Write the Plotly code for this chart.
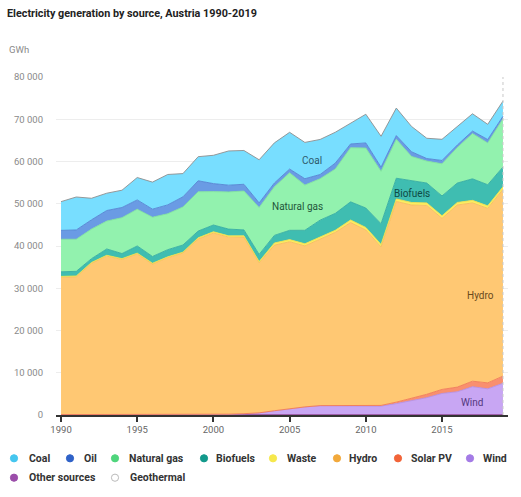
import plotly.graph_objects as go

years = list(range(1990, 2020))

# GWh
coal = [6800, 7800, 5100, 4100, 4100, 5300, 6400, 7200, 5500, 5700,
        6700, 8100, 8000, 10200, 9500, 8700, 8600, 8300, 7300, 4900,
        6800, 7300, 6500, 6000, 4800, 5000, 4400, 4100, 3600, 3600]
oil = [2100, 2200, 2200, 2500, 2400, 2200, 1900, 2100, 2400, 2600,
       1900, 1600, 1600, 1100, 900, 900, 1500, 1000, 1400, 900,
       1200, 1000, 900, 1100, 600, 800, 600, 600, 800, 600]
natural_gas = [7700, 7600, 7000, 6600, 8500, 8700, 9300, 8500, 9000, 9300,
               7900, 8800, 9200, 11100, 11500, 13600, 10700, 9800, 10500, 12800,
               14200, 12400, 9200, 5700, 5200, 7600, 8400, 10700, 9900, 11400]
biofuels = [1100, 1100, 900, 1500, 1200, 1700, 1600, 1700, 1700, 1600,
            1600, 1600, 1400, 1700, 1800, 2200, 3200, 4000, 4000, 4300,
            4600, 4900, 4900, 5200, 4700, 4700, 4600, 5100, 5000, 4700]
waste = [200, 200, 200, 200, 200, 200, 200, 200, 200, 300,
         300, 300, 300, 300, 500, 500, 500, 500, 500, 600,
         600, 600, 600, 600, 600, 600, 600, 600, 600, 600]
hydro = [32500, 32600, 35800, 37500, 36700, 38000, 35600, 37100, 38200, 41500,
         42900, 41900, 41800, 35500, 39200, 39500, 38100, 39400, 41000, 43400,
         41500, 37500, 47500, 45700, 44700, 40500, 43100, 42200, 41300, 44200]
solar_pv = [0, 0, 0, 0, 0, 0, 0, 0, 0, 0,
            0, 0, 10, 10, 10, 10, 20, 20, 30, 50,
            90, 170, 340, 600, 800, 950, 1100, 1300, 1400, 1700]
wind = [0, 0, 0, 0, 10, 10, 20, 30, 40, 40,
        70, 100, 200, 400, 900, 1400, 1800, 2100, 2100, 2000,
        2100, 2000, 2600, 3300, 4000, 5000, 5400, 6600, 6100, 7400]
other_sources = [100, 100, 100, 100, 100, 100, 100, 100, 100, 100,
                 100, 100, 100, 100, 100, 100, 100, 100, 100, 100,
                 100, 100, 100, 100, 100, 100, 100, 100, 100, 100]
geothermal = [0, 0, 0, 0, 0, 0, 0, 0, 0, 0,
              0, 0, 1, 1, 1, 1, 1, 1, 1, 1,
              1, 1, 1, 1, 1, 1, 1, 1, 1, 1]

y_ticks = [0, 10000, 20000, 30000, 40000, 50000, 60000, 70000, 80000]
x_ticks = [1990, 1995, 2000, 2005, 2010, 2015]

# name, values, fill colour, line colour, legend dot colour
series = [
    ("Coal", coal, "#78DEFF", "#8E8E8E", "#45C6EF"),
    ("Oil", oil, "#6A9BE4", "#5383D2", "#2F62C8"),
    ("Natural gas", natural_gas, "#92F2AE", "#7FE39C", "#4FD57C"),
    ("Biofuels", biofuels, "#3FBDB1", "#34ADA1", "#12998B"),
    ("Waste", waste, "#FBEE62", "#F2E04A", "#F6E84C"),
    ("Hydro", hydro, "#FFC873", "#F6BA5E", "#F2A93B"),
    ("Solar PV", solar_pv, "#F98F6F", "#F07A58", "#F26438"),
    ("Wind", wind, "#C8A6F3", "#B28FE6", "#A47BE6"),
    ("Other sources", other_sources, "#A65CB8", "#96509F", "#9B4DAA"),
    ("Geothermal", geothermal, "#E0E0E0", "#CCCCCC", "#FFFFFF"),
]

W, H = 521, 497
ML, MR, MT, MB = 56, 13, 77, 82
PW, PH = W - ML - MR, H - MT - MB


def pxp(x):
    return (x - ML) / PW


def pyp(y):
    return (H - MB - y) / PH


fig = go.Figure()
for name, vals, fillc, linec, _ in reversed(series):
    fig.add_trace(go.Scatter(
        x=years, y=vals, name=name, mode="lines", stackgroup="one",
        fillcolor=fillc, line=dict(color=linec, width=0.9),
        showlegend=False, hoverinfo="x+y+name"))

font = "Roboto, 'Liberation Sans', Arial, sans-serif"

annotations = [
    dict(text="GWh", xref="paper", yref="paper", x=pxp(7), y=pyp(50),
         xanchor="left", yanchor="middle", showarrow=False,
         font=dict(size=9.5, color="#8a8a8a", family=font)),
]

# in-area labels
area_labels = [
    ("Coal", 2006.5, 60200, "#2E5A6A"),
    ("Natural gas", 2005.5, 49400, "#24573A"),
    ("Biofuels", 2013.05, 52400, "#0E4A45"),
    ("Hydro", 2017.5, 28300, "#6A4A1C"),
    ("Wind", 2017.0, 3000, "#54387E"),
]
for t, xv, yv, c in area_labels:
    annotations.append(dict(text=t, x=xv, y=yv, xref="x", yref="y",
                            showarrow=False, xanchor="center", yanchor="middle",
                            font=dict(size=10, color=c, family=font)))

# legend (dots + labels)
legend_pos = [
    (14, 27, 458.3), (70, 82, 458.3), (115, 127, 458.3), (204, 214, 458.3),
    (273, 285, 458.3), (337, 347, 458.3), (398, 409, 458.3), (470, 481, 458.3),
    (14, 27, 477.7), (115, 128, 477.7),
]
shapes = []
for (name, _, _, _, dotc), (mx, tx, yy) in zip(series, legend_pos):
    line_c = "#BBBBBB" if name == "Geothermal" else dotc
    shapes.append(dict(type="circle", xref="paper", yref="paper",
                       xsizemode="pixel", ysizemode="pixel",
                       xanchor=pxp(mx), yanchor=pyp(yy),
                       x0=-3.6, x1=3.6, y0=-3.6, y1=3.6,
                       fillcolor=dotc, line=dict(color=line_c, width=1)))
    annotations.append(dict(text="<b>" + name + "</b>", xref="paper", yref="paper",
                            x=pxp(tx), y=pyp(yy), xanchor="left", yanchor="middle",
                            showarrow=False,
                            font=dict(size=10.5, color="#333333", family=font)))

# dotted marker line at the last year
shapes.append(dict(type="line", xref="x", yref="paper", x0=years[-1], x1=years[-1],
                   y0=0, y1=1.0, line=dict(color="#C8C8C8", width=1, dash="dot")))

fig.update_layout(
    width=W, height=H,
    margin=dict(l=ML, r=MR, t=MT, b=MB),
    paper_bgcolor="white", plot_bgcolor="white",
    separators=". ",
    font=dict(family=font, color="#555"),
    title=dict(text="<b>Electricity generation by source, Austria 1990-2019</b>",
               xref="container", yref="container", x=7 / W, y=1 - 13 / H,
               xanchor="left", yanchor="middle",
               font=dict(size=10.8, color="#222222", family=font)),
    xaxis=dict(range=[1989.67, 2019.33], tickvals=x_ticks, ticks="outside",
               ticklen=5, tickwidth=1.5, tickcolor="#333", showline=True,
               linecolor="#333", linewidth=1.5, showgrid=False, zeroline=False,
               tickfont=dict(size=9.5, color="#666", family=font)),
    yaxis=dict(range=[0, 80000], tickvals=y_ticks, tickformat=",", ticks="",
               showgrid=True, gridcolor="#EDEDED", gridwidth=1, zeroline=False,
               showline=False, ticklabelstandoff=12,
               tickfont=dict(size=9.5, color="#8a8a8a", family=font)),
    annotations=annotations,
    shapes=shapes,
    showlegend=False,
)

fig.write_html("out.html", config={"displayModeBar": False},
               post_script="document.body.style.margin='0';document.body.style.padding='0';")
